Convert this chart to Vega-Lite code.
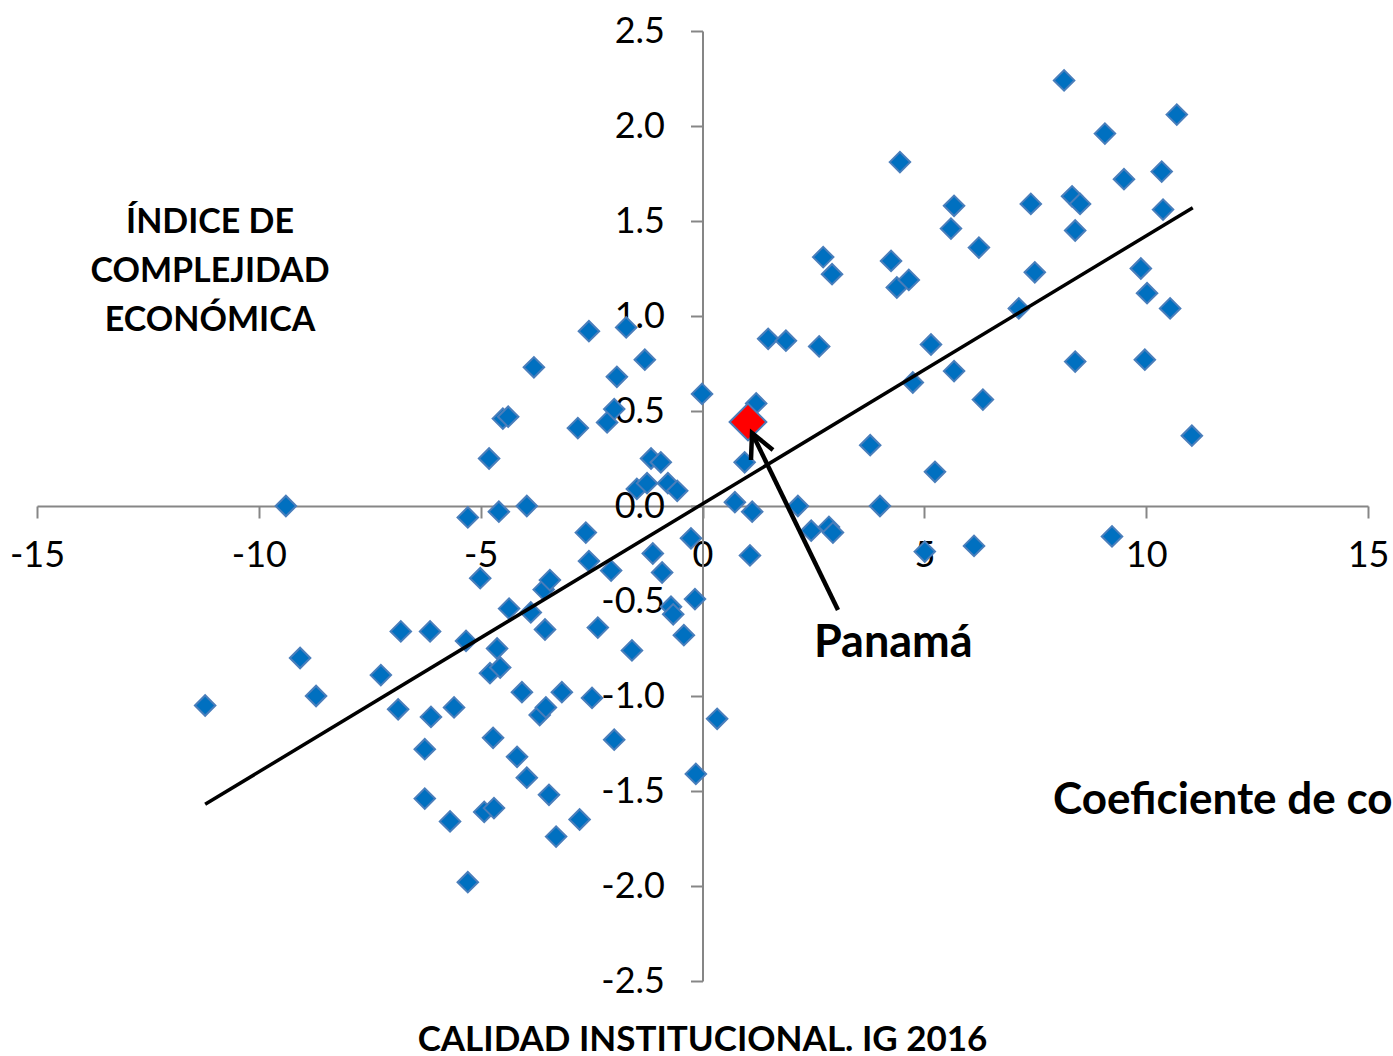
{
  "$schema": "https://vega.github.io/schema/vega-lite/v6.json",
  "width": 1331,
  "height": 950,
  "autosize": {"type": "none"},
  "padding": {"left": 37, "top": 31, "right": 25, "bottom": 75},
  "background": "white",
  "config": {"view": {"stroke": null}},
  "datasets": {
    "paises": [
      {"x": -11.21, "y": -1.05}, {"x": -9.39, "y": 0.0}, {"x": -9.07, "y": -0.80}, {"x": -8.71, "y": -1.00},
      {"x": -7.25, "y": -0.89}, {"x": -6.86, "y": -1.07}, {"x": -6.80, "y": -0.66}, {"x": -6.26, "y": -1.54},
      {"x": -6.26, "y": -1.28}, {"x": -6.12, "y": -1.11}, {"x": -6.14, "y": -0.66}, {"x": -5.69, "y": -1.66},
      {"x": -5.60, "y": -1.06}, {"x": -5.33, "y": -0.71}, {"x": -5.29, "y": -0.06}, {"x": -5.29, "y": -1.98},
      {"x": -5.01, "y": -0.38}, {"x": -4.92, "y": -1.61}, {"x": -4.81, "y": 0.25}, {"x": -4.79, "y": -0.88},
      {"x": -4.72, "y": -1.22}, {"x": -4.70, "y": -1.59}, {"x": -4.63, "y": -0.75}, {"x": -4.59, "y": -0.03},
      {"x": -4.56, "y": -0.85}, {"x": -4.50, "y": 0.46}, {"x": -4.38, "y": 0.47}, {"x": -4.36, "y": -0.54},
      {"x": -4.18, "y": -1.32}, {"x": -4.07, "y": -0.98}, {"x": -3.96, "y": 0.0}, {"x": -3.96, "y": -1.43},
      {"x": -3.87, "y": -0.56}, {"x": -3.80, "y": 0.73}, {"x": -3.67, "y": -1.10}, {"x": -3.58, "y": -0.44},
      {"x": -3.55, "y": -0.65}, {"x": -3.53, "y": -1.06}, {"x": -3.46, "y": -1.52}, {"x": -3.44, "y": -0.39},
      {"x": -3.30, "y": -1.74}, {"x": -3.17, "y": -0.98}, {"x": -2.81, "y": 0.41}, {"x": -2.77, "y": -1.65},
      {"x": -2.63, "y": -0.14}, {"x": -2.56, "y": 0.92}, {"x": -2.56, "y": -0.29}, {"x": -2.49, "y": -1.01},
      {"x": -2.36, "y": -0.64}, {"x": -2.15, "y": 0.44}, {"x": -2.06, "y": -0.34}, {"x": -1.99, "y": -1.23},
      {"x": -1.93, "y": 0.68}, {"x": -1.99, "y": 0.51}, {"x": -1.72, "y": 0.94}, {"x": -1.59, "y": -0.76},
      {"x": -1.48, "y": 0.09}, {"x": -1.30, "y": 0.77}, {"x": -1.25, "y": 0.12}, {"x": -1.16, "y": 0.25},
      {"x": -1.12, "y": -0.25}, {"x": -0.94, "y": 0.23}, {"x": -0.91, "y": -0.35}, {"x": -0.78, "y": 0.12},
      {"x": -0.71, "y": -0.53}, {"x": -0.66, "y": -0.57}, {"x": -0.57, "y": 0.08}, {"x": -0.42, "y": -0.68},
      {"x": -0.26, "y": -0.17}, {"x": -0.17, "y": -0.49}, {"x": -0.15, "y": -1.41}, {"x": -0.01, "y": 0.59},
      {"x": 0.33, "y": -1.12}, {"x": 0.73, "y": 0.02}, {"x": 0.95, "y": 0.23}, {"x": 1.07, "y": -0.26},
      {"x": 1.12, "y": -0.03}, {"x": 1.21, "y": 0.54}, {"x": 1.48, "y": 0.88}, {"x": 1.88, "y": 0.87},
      {"x": 2.15, "y": 0.0}, {"x": 2.45, "y": -0.13}, {"x": 2.63, "y": 0.84}, {"x": 2.72, "y": 1.31},
      {"x": 2.85, "y": -0.11}, {"x": 2.92, "y": 1.22}, {"x": 2.94, "y": -0.14}, {"x": 3.78, "y": 0.32},
      {"x": 4.00, "y": 0.0}, {"x": 4.25, "y": 1.29}, {"x": 4.38, "y": 1.15}, {"x": 4.45, "y": 1.81},
      {"x": 4.65, "y": 1.19}, {"x": 4.74, "y": 0.65}, {"x": 5.01, "y": -0.24}, {"x": 5.15, "y": 0.85},
      {"x": 5.24, "y": 0.18}, {"x": 5.60, "y": 1.46}, {"x": 5.67, "y": 1.58}, {"x": 5.67, "y": 0.71},
      {"x": 6.12, "y": -0.21}, {"x": 6.23, "y": 1.36}, {"x": 6.32, "y": 0.56}, {"x": 7.13, "y": 1.04},
      {"x": 7.40, "y": 1.59}, {"x": 7.49, "y": 1.23}, {"x": 8.15, "y": 2.24}, {"x": 8.33, "y": 1.63},
      {"x": 8.40, "y": 1.45}, {"x": 8.40, "y": 0.76}, {"x": 8.51, "y": 1.59}, {"x": 9.07, "y": 1.96},
      {"x": 9.23, "y": -0.16}, {"x": 9.50, "y": 1.72}, {"x": 9.88, "y": 1.25}, {"x": 9.97, "y": 0.77},
      {"x": 10.02, "y": 1.12}, {"x": 10.35, "y": 1.76}, {"x": 10.38, "y": 1.56}, {"x": 10.54, "y": 1.04},
      {"x": 10.69, "y": 2.06}, {"x": 11.03, "y": 0.37}
    ],
    "panama": [{"x": 1.025, "y": 0.442, "pais": "Panamá"}],
    "tendencia": [{"x": -11.21, "y": -1.57}, {"x": 11.05, "y": 1.57}],
    "flecha": [
      {"seg": "a", "o": 1, "x": 3.054, "y": -0.547},
      {"seg": "a", "o": 2, "x": 1.116, "y": 0.384},
      {"seg": "b", "o": 1, "x": 1.093, "y": 0.242},
      {"seg": "b", "o": 2, "x": 1.116, "y": 0.384},
      {"seg": "b", "o": 3, "x": 1.589, "y": 0.295}
    ]
  },
  "encoding": {
    "x": {
      "field": "x", "type": "quantitative",
      "scale": {"domain": [-15, 15], "nice": false, "zero": false},
      "axis": {
        "orient": "bottom", "offset": -475, "values": [-15, -10, -5, 0, 5, 10, 15],
        "labelExpr": "replace(format(datum.value, 'd'), '\u2212', '-')",
        "title": null, "grid": false, "domainColor": "#868686", "domainWidth": 2,
        "tickColor": "#868686", "tickWidth": 2, "tickSize": 12,
        "labelFont": "Lato", "labelFontSize": 36, "labelColor": "#000000", "labelPadding": 20,
        "labelFlush": false, "labelOverlap": false, "labelBound": false, "zindex": 0
      }
    },
    "y": {
      "field": "y", "type": "quantitative",
      "scale": {"domain": [-2.5, 2.5], "nice": false, "zero": false},
      "axis": {
        "orient": "left", "offset": -665.5, "values": [-2.5, -2, -1.5, -1, -0.5, 0, 0.5, 1, 1.5, 2, 2.5],
        "labelExpr": "replace(format(datum.value, '.1f'), '\u2212', '-')",
        "title": null, "grid": false, "domainColor": "#868686", "domainWidth": 2,
        "tickColor": "#868686", "tickWidth": 2, "tickSize": 12,
        "labelFont": "Lato", "labelFontSize": 36, "labelColor": "#000000", "labelPadding": 26,
        "labelFlush": false, "labelOverlap": false, "labelBound": false, "zindex": 0
      }
    }
  },
  "layer": [
    {
      "data": {"name": "paises"},
      "mark": {"type": "point", "shape": "diamond", "filled": true, "size": 420, "fill": "#0070C0", "stroke": "#4A7EBB", "strokeWidth": 2, "opacity": 1}
    },
    {
      "data": {"name": "panama"},
      "mark": {"type": "point", "shape": "diamond", "filled": true, "size": 1350, "fill": "#FF0000", "stroke": "#4A7EBB", "strokeWidth": 2, "opacity": 1}
    },
    {
      "data": {"name": "tendencia"},
      "mark": {"type": "line", "color": "#000000", "strokeWidth": 3.5},
      "encoding": {}
    },
    {
      "data": {"name": "flecha"},
      "mark": {"type": "line", "color": "#000000", "strokeWidth": 4.5, "strokeJoin": "miter", "strokeCap": "butt"},
      "encoding": {
        "detail": {"field": "seg", "type": "nominal"},
        "order": {"field": "o", "type": "quantitative"}
      }
    },
    {
      "data": {"values": [{"x": 4.30, "y": -0.721, "texto": "Panamá"}]},
      "mark": {"type": "text", "font": "Lato", "fontWeight": "bold", "fontSize": 45, "color": "#000000", "align": "center", "baseline": "middle"},
      "encoding": {"text": {"field": "texto"}}
    },
    {
      "data": {"values": [{"x": -11.10, "y": 1.489, "texto": "ÍNDICE DE\nCOMPLEJIDAD\nECONÓMICA"}]},
      "mark": {"type": "text", "font": "Lato", "fontWeight": "bold", "fontSize": 34, "lineHeight": 49, "lineBreak": "\n", "color": "#000000", "align": "center", "baseline": "middle"},
      "encoding": {"text": {"field": "texto"}}
    },
    {
      "data": {"values": [{"x": 7.90, "y": -1.553, "texto": "Coeficiente de correlación"}]},
      "mark": {"type": "text", "font": "Lato", "fontWeight": "bold", "fontSize": 44, "color": "#000000", "align": "left", "baseline": "middle"},
      "encoding": {"text": {"field": "texto"}}
    },
    {
      "data": {"values": [{"x": 0.0, "y": -2.81, "texto": "CALIDAD INSTITUCIONAL. IG 2016"}]},
      "mark": {"type": "text", "font": "Lato", "fontWeight": "bold", "fontSize": 35, "color": "#000000", "align": "center", "baseline": "middle"},
      "encoding": {"text": {"field": "texto"}}
    }
  ]
}
